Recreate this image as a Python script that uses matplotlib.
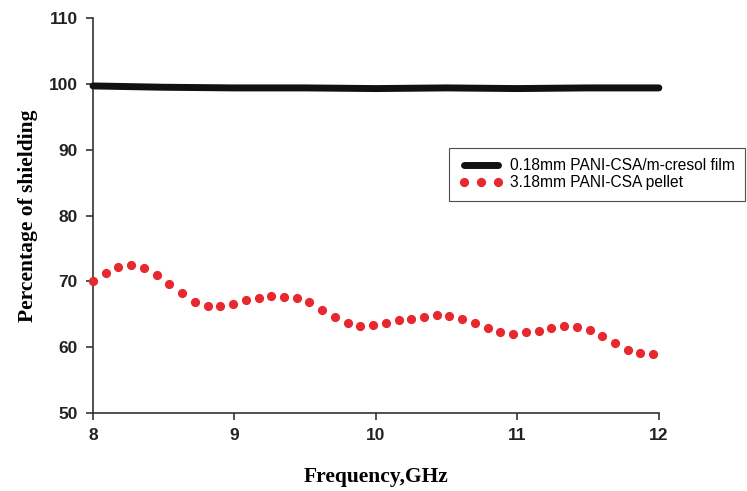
import matplotlib.pyplot as plt

# sweep frequencies (GHz)
freq = [8.00, 8.09, 8.18, 8.27, 8.36, 8.45, 8.54, 8.63, 8.72, 8.81,
        8.90, 8.99, 9.08, 9.17, 9.26, 9.35, 9.44, 9.53, 9.62, 9.71,
        9.80, 9.89, 9.98, 10.07, 10.16, 10.25, 10.34, 10.43, 10.52, 10.61,
        10.70, 10.79, 10.88, 10.97, 11.06, 11.15, 11.24, 11.33, 11.42, 11.51,
        11.60, 11.69, 11.78, 11.87, 11.96]

film_freq = [8.0, 8.5, 9.0, 9.5, 10.0, 10.5, 11.0, 11.5, 12.0]
film = [99.7, 99.5, 99.4, 99.4, 99.3, 99.4, 99.3, 99.4, 99.4]

pellet = [70.0, 71.2, 72.15, 72.45, 72.05, 70.9, 69.6, 68.2, 66.9, 66.2,
          66.2, 66.6, 67.1, 67.5, 67.7, 67.6, 67.4, 66.8, 65.7, 64.6,
          63.7, 63.2, 63.3, 63.6, 64.1, 64.25, 64.55, 64.85, 64.8, 64.3,
          63.7, 62.9, 62.3, 62.0, 62.25, 62.5, 62.85, 63.2, 63.1, 62.6,
          61.7, 60.6, 59.6, 59.1, 59.0]

labels = ["0.18mm PANI-CSA/m-cresol film", "3.18mm PANI-CSA pellet"]

fig = plt.figure(figsize=(7.47, 4.91), dpi=100)
ax = fig.add_axes([0.1245, 0.159, 0.7575, 0.804])

ax.plot(film_freq, film, color="#111111", lw=5, solid_capstyle="round",
        label=labels[0], clip_on=False, zorder=3)
ax.plot(freq, pellet, ls="none", marker="o", ms=5.6, color="#e8282f",
        mec="#e8282f", label=labels[1], clip_on=False, zorder=3)

ax.set_xlim(8, 12)
ax.set_ylim(50, 110)
ax.set_xticks([8, 9, 10, 11, 12])
ax.set_yticks([50, 60, 70, 80, 90, 100, 110])

for s in ["top", "right"]:
    ax.spines[s].set_visible(False)
for s in ["left", "bottom"]:
    ax.spines[s].set_color("#333333")
    ax.spines[s].set_linewidth(1.2)

ax.tick_params(direction="out", length=5, width=1.2, color="#333333", pad=6)
for lab in ax.get_xticklabels() + ax.get_yticklabels():
    lab.set_fontfamily("Liberation Sans")
    lab.set_fontweight("bold")
    lab.set_fontsize(12.5)
    lab.set_color("#222222")

ax.set_xlabel("Frequency,GHz", family="Liberation Serif", weight="bold",
              fontsize=15.5, labelpad=17)
ax.set_ylabel("Percentage of shielding", family="Liberation Serif",
              weight="bold", fontsize=15.5, labelpad=8)

leg = ax.legend(loc="upper left", bbox_to_anchor=(0.629, 0.671), numpoints=3,
                frameon=True, fancybox=False, handlelength=2.8,
                prop={"family": "Liberation Sans", "size": 11.2},
                borderpad=0.65, labelspacing=0.15, handletextpad=0.45,
                borderaxespad=0)
leg.get_frame().set_edgecolor("#222222")
leg.get_frame().set_linewidth(0.8)

fig.savefig("out.png", dpi=100)
